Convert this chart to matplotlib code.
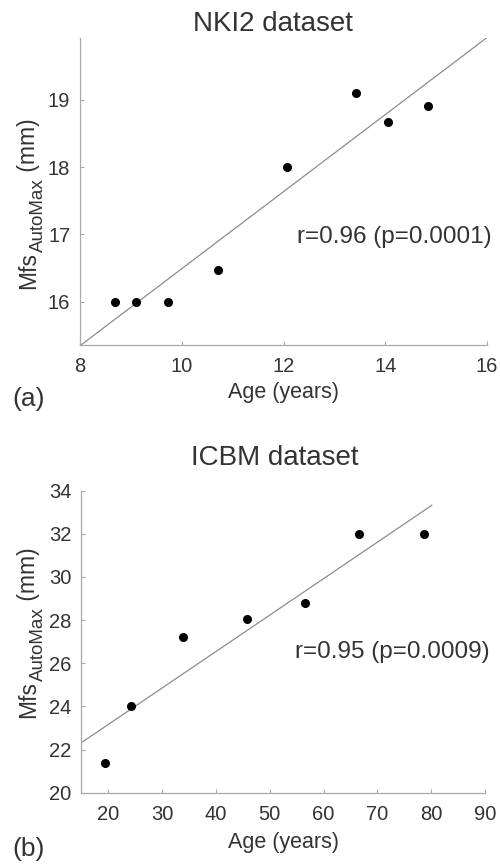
import numpy as np
from matplotlib import pyplot as plt

# Dane wykresów.
nki_age = [8.69, 9.10, 9.73, 10.72, 12.06, 13.42, 14.06, 14.85]
nki_mfs = [16.0, 16.0, 16.0, 16.47, 18.0, 19.10, 18.67, 18.91]

icbm_age = [19.4, 24.2, 33.9, 45.8, 56.6, 66.6, 78.7]
icbm_mfs = [21.36, 24.02, 27.23, 28.04, 28.81, 32.0, 32.0]

plt.rcParams['font.family'] = ['Liberation Sans', 'DejaVu Sans']

text_c = '#333333'
axis_c = '#a8a8a8'
W, H = 500, 868

fig = plt.figure(figsize=(W / 100, H / 100), dpi=100)


def px(x, y_top):
    # piksele (od góry) -> współrzędne figury
    return x / W, 1 - y_top / H


def ylabel_parts(x_base, y_center_top):
    parts = [('Mfs', 16.5, 0), ('AutoMax', 13.5, 8), (' (mm)', 16.5, 0)]
    texts = []
    for t, s, dx in parts:
        texts.append(fig.text(0, 0, t, fontsize=s, color=text_c, rotation=90,
                              rotation_mode='anchor', ha='left', va='baseline'))
    r = fig.canvas.get_renderer()
    lens = [t.get_window_extent(r).height for t in texts]
    y = (H - y_center_top) - sum(lens) / 2
    for t, L, (_, _, dx) in zip(texts, lens, parts):
        t.set_position(((x_base + dx) / W, y / H))
        y += L


def panel(rect, age, mfs, xlim, ylim, xticks, yticks, line_x, title, title_xy,
          stat, stat_y, xlab_xy, tag, tag_y, ylab_y):
    ax = fig.add_axes(rect)
    slope, icept = np.polyfit(age, mfs, 1)
    lx = np.array(line_x)
    ax.plot(lx, slope * lx + icept, color='#8c8c8c', lw=0.9)
    ax.plot(age, mfs, 'o', color='black', ms=5.5)
    ax.set_xlim(xlim)
    ax.set_ylim(ylim)
    ax.set_xticks(xticks)
    ax.set_yticks(yticks)
    for s in ('top', 'right'):
        ax.spines[s].set_visible(False)
    for s in ('left', 'bottom'):
        ax.spines[s].set_color(axis_c)
        ax.spines[s].set_linewidth(0.9)
    ax.tick_params(direction='in', length=3, color=axis_c, labelcolor=text_c,
                   labelsize=14.5)
    ax.tick_params(axis='x', pad=9)
    ax.tick_params(axis='y', pad=7)
    fig.text(*px(*title_xy), title, fontsize=20, color=text_c, ha='center',
             va='baseline')
    fig.text(*px(*xlab_xy), 'Age (years)', fontsize=15.5, color=text_c,
             ha='center', va='baseline')
    ax.text(1.012, stat_y, stat, transform=ax.transAxes, ha='right', va='center',
            fontsize=17.5, color=text_c)
    fig.text(*px(12, tag_y), tag, fontsize=19, color=text_c, va='center')
    ylabel_parts(35, ylab_y)
    return ax


panel([80 / W, 1 - 345 / H, 407 / W, 307 / H], nki_age, nki_mfs, (8, 16),
      (15.355, 19.92), [8, 10, 12, 14, 16], [16, 17, 18, 19], [8, 16],
      'NKI2 dataset', (273, 31), 'r=0.96 (p=0.0001)', 0.352, (284, 398),
      '(a)', 399, 204)

panel([81 / W, 1 - 792.7 / H, 404 / W, 302 / H], icbm_age, icbm_mfs, (14.9, 90),
      (20, 34), range(20, 100, 10), range(20, 36, 2), [14.9, 80.1],
      'ICBM dataset', (275, 465), 'r=0.95 (p=0.0009)', 0.466, (283, 848),
      '(b)', 849, 633)

plt.savefig('out.png', dpi=100)
